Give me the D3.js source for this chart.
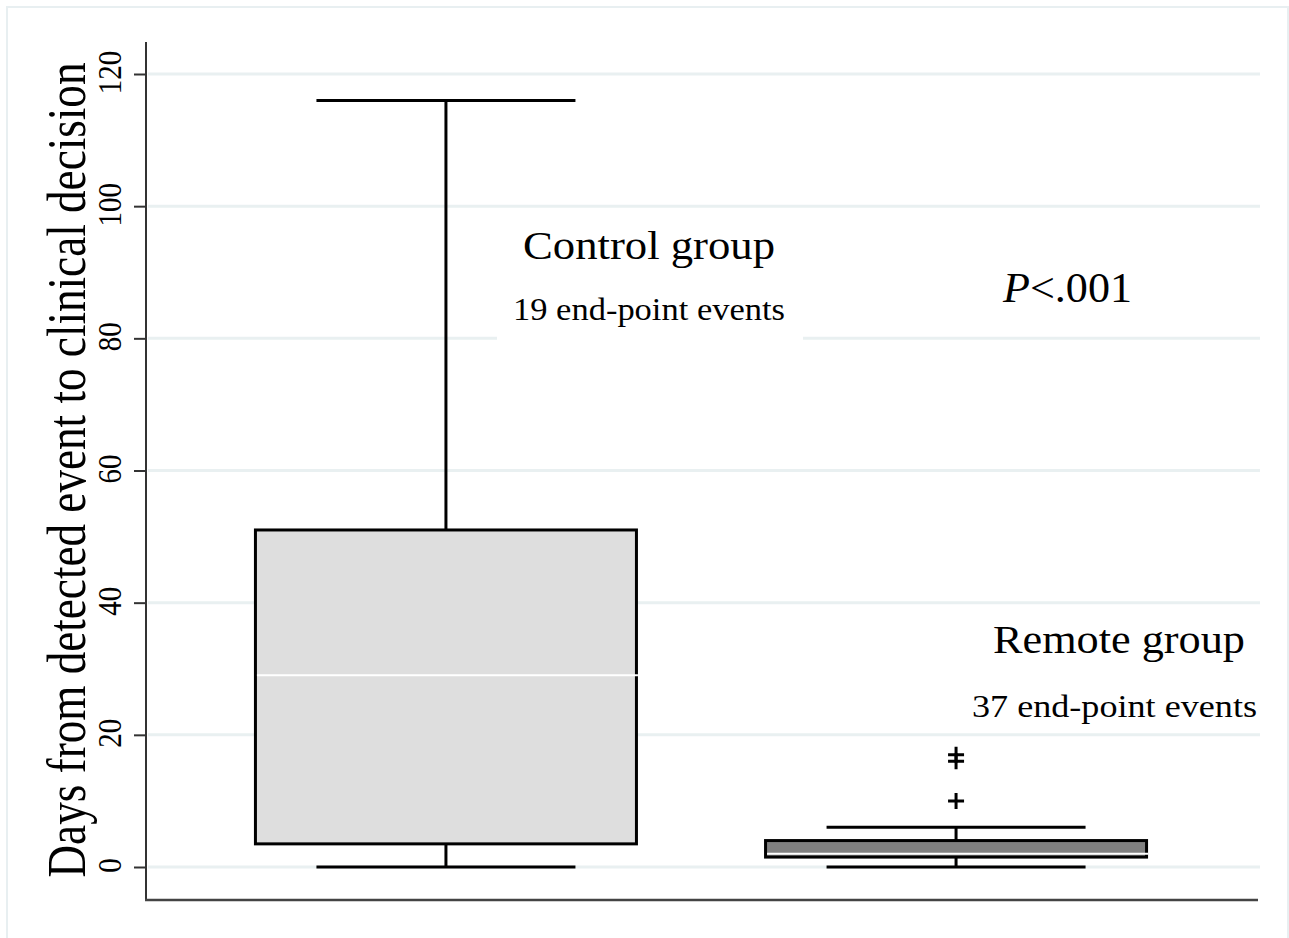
<!DOCTYPE html>
<html>
<head>
<meta charset="utf-8">
<script src="https://cdn.jsdelivr.net/npm/d3@7"></script>
<style>
  html, body { margin: 0; padding: 0; background: #fff; }
  svg { display: block; }
</style>
</head>
<body>
<script>
// ---- data ----
const groups = ["Control group", "Remote group"];
const lowerWhisker = [0, 0];
const q1 = [3.5, 1.5];
const median = [29, 2];
const q3 = [51, 4];
const upperWhisker = [116, 6];
const outliers = [[], [10, 16, 17]];
const boxFills = ["#dedede", "#808080"];
const yTicks = [0, 20, 40, 60, 80, 100, 120];
const eventCounts = ["19 end-point events", "37 end-point events"];
const yTitle = "Days from detected event to clinical decision";

const W = 1289, H = 938;
const svg = d3.select("body").append("svg").attr("width", W).attr("height", H);
const serif = "'Liberation Serif', 'Times New Roman', serif";
const SX = 1.18; // horizontal stretch of glyphs in the original

// outer frame
svg.append("rect").attr("x", 7).attr("y", 7).attr("width", 1281).attr("height", 940)
  .attr("fill", "none").attr("stroke", "#e8eff1").attr("stroke-width", 2);

const y = d3.scaleLinear().domain([0, 120]).range([867, 74]);
const x = d3.scalePoint().domain(groups).range([146, 1256]).padding(0.588);

const plotL = 146, plotR = 1260;

// grid
svg.append("g").selectAll("line").data(yTicks).join("line")
  .attr("x1", plotL + 2).attr("x2", plotR)
  .attr("y1", d => y(d)).attr("y2", d => y(d))
  .attr("stroke", "#e9f0f1").attr("stroke-width", 3);

// label mask (white background behind control label)
svg.append("rect").attr("x", 497).attr("y", 215).attr("width", 306).attr("height", 125).attr("fill", "#fff");

// y axis
const yAxis = d3.axisLeft(y).tickValues(yTicks).tickSize(12).tickPadding(0).tickFormat(d3.format("d"));
const gy = svg.append("g").attr("transform", `translate(${plotL},0)`).call(yAxis);
gy.select(".domain").remove();
gy.selectAll(".tick line").attr("stroke", "#333").attr("stroke-width", 2);
gy.selectAll(".tick text").remove();
gy.selectAll(".tick").append("text")
  .attr("transform", `translate(-25,-2) rotate(-90) scale(1,${SX})`)
  .attr("text-anchor", "middle")
  .attr("fill", "#000")
  .style("font-family", serif).style("font-size", "29px")
  .text(d => d);

// axis lines
svg.append("line").attr("x1", plotL).attr("x2", plotL).attr("y1", 42).attr("y2", 901)
  .attr("stroke", "#333").attr("stroke-width", 2);
svg.append("line").attr("x1", plotL - 1).attr("x2", 1258).attr("y1", 900).attr("y2", 900)
  .attr("stroke", "#444").attr("stroke-width", 2.5);

// y title
svg.append("text")
  .attr("transform", `translate(85,470) rotate(-90) scale(1,${SX})`)
  .attr("text-anchor", "middle")
  .attr("textLength", 815).attr("lengthAdjust", "spacingAndGlyphs")
  .attr("fill", "#000")
  .style("font-family", serif).style("font-size", "46px")
  .text(yTitle);

// boxes
const boxW = 381, capW = 259;
const gb = svg.append("g");
groups.forEach((g, i) => {
  const cx = x(g);
  gb.append("line").attr("x1", cx).attr("x2", cx).attr("y1", y(q3[i])).attr("y2", y(upperWhisker[i]))
    .attr("stroke", "#000").attr("stroke-width", 3);
  gb.append("line").attr("x1", cx).attr("x2", cx).attr("y1", y(q1[i])).attr("y2", y(lowerWhisker[i]))
    .attr("stroke", "#000").attr("stroke-width", 3);
  gb.append("line").attr("x1", cx - capW / 2).attr("x2", cx + capW / 2)
    .attr("y1", y(upperWhisker[i])).attr("y2", y(upperWhisker[i])).attr("stroke", "#000").attr("stroke-width", 3);
  gb.append("line").attr("x1", cx - capW / 2).attr("x2", cx + capW / 2)
    .attr("y1", y(lowerWhisker[i])).attr("y2", y(lowerWhisker[i])).attr("stroke", "#000").attr("stroke-width", 3);
  gb.append("rect").attr("x", cx - boxW / 2).attr("width", boxW)
    .attr("y", y(q3[i])).attr("height", y(q1[i]) - y(q3[i]))
    .attr("fill", boxFills[i]).attr("stroke", "#000").attr("stroke-width", 3);
  gb.append("line").attr("x1", cx - boxW / 2 + 1.5).attr("x2", cx + boxW / 2 + 1.5)
    .attr("y1", y(median[i])).attr("y2", y(median[i])).attr("stroke", "#fff").attr("stroke-width", 2);
  outliers[i].forEach(v => {
    gb.append("path")
      .attr("d", `M${cx - 8},${y(v)}H${cx + 8}M${cx},${y(v) - 8}V${y(v) + 8}`)
      .attr("stroke", "#000").attr("stroke-width", 3).attr("fill", "none");
  });
});

// annotations
function label(txt, cx, by, size, len) {
  svg.append("text").attr("x", cx).attr("y", by).attr("text-anchor", "middle")
    .attr("textLength", len).attr("lengthAdjust", "spacingAndGlyphs")
    .attr("fill", "#000").style("font-family", serif).style("font-size", size + "px")
    .text(txt);
}
label(groups[0], 649, 259, 40, 252);
label(eventCounts[0], 649, 320, 31, 272);
label(groups[1], 1119, 653, 40, 252);
label(eventCounts[1], 1114.5, 717, 32, 285);

const pt = svg.append("text").attr("x", 1003).attr("y", 302)
  .attr("textLength", 129).attr("lengthAdjust", "spacingAndGlyphs")
  .attr("fill", "#000").style("font-family", serif).style("font-size", "42px");
pt.append("tspan").style("font-style", "italic").text("P");
pt.append("tspan").text("<.001");
</script>
</body>
</html>
